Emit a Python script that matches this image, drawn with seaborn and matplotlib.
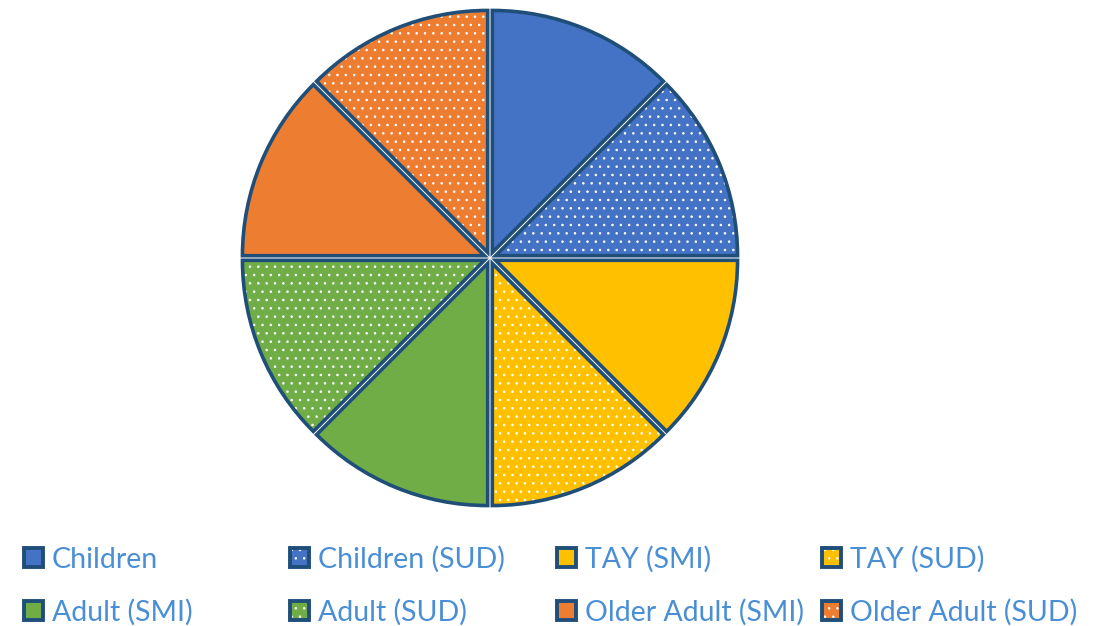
import matplotlib
matplotlib.use("Agg")
import matplotlib.pyplot as plt
from matplotlib.patches import Rectangle
import seaborn as sns

sns.set_theme(style="white")
plt.rcParams["font.family"] = ["Lato", "DejaVu Sans"]
plt.rcParams["hatch.linewidth"] = 0.6

# Program categories (clockwise from 12 o'clock)
categories = ["Children", "Children (SUD)", "TAY (SMI)", "TAY (SUD)",
              "Adult (SMI)", "Adult (SUD)", "Older Adult (SMI)", "Older Adult (SUD)"]
shares = [1, 1, 1, 1, 1, 1, 1, 1]
base_colors = ["#4472C4", "#4472C4", "#FFC000", "#FFC000",
               "#70AD47", "#70AD47", "#ED7D31", "#ED7D31"]
dotted = [False, True, False, True, False, True, False, True]

EDGE = "#1F4E79"
TEXT = "#4A8FD6"

W, H = 1107, 626
fig = plt.figure(figsize=(W / 100, H / 100), dpi=100)
ax = fig.add_axes([0, 0, 1, 1])

cx, cy = 490, H - 258
radius = 242
explode = [6] * len(shares)          # offset in data (pixel) units
hatches = [".." if d else None for d in dotted]

# fill layer with white dot hatching
wedges, _ = ax.pie(shares, colors=base_colors, startangle=90, counterclock=False,
                   center=(cx, cy), radius=radius, explode=explode, frame=True,
                   wedgeprops=dict(edgecolor="white", linewidth=0))
for w, h in zip(wedges, hatches):
    if h:
        w.set_hatch(h)

# outline layer
ax.pie(shares, colors=["none"] * len(shares), startangle=90, counterclock=False,
       center=(cx, cy), radius=radius, explode=explode, frame=True,
       wedgeprops=dict(edgecolor=EDGE, linewidth=2.6, fill=False))

# legend: 4 columns x 2 rows
col_x = [24, 290, 557, 822]
row_y = [557, 610]
box = 19
for i, (name, col, dot) in enumerate(zip(categories, base_colors, dotted)):
    r, c = divmod(i, 4)
    x = col_x[c]
    y = H - row_y[r]
    ax.add_patch(Rectangle((x, y - box / 2), box, box, facecolor=col,
                           edgecolor="white", linewidth=0,
                           hatch=".." if dot else None))
    ax.add_patch(Rectangle((x, y - box / 2), box, box, fill=False,
                           edgecolor=EDGE, linewidth=2.8))
    ax.text(x + box + 9, y, name, color=TEXT, fontsize=20.5,
            va="center_baseline", ha="left")

ax.set_xlim(0, W)
ax.set_ylim(0, H)
ax.set_aspect("equal")
ax.axis("off")

fig.savefig("out.png", dpi=100)
